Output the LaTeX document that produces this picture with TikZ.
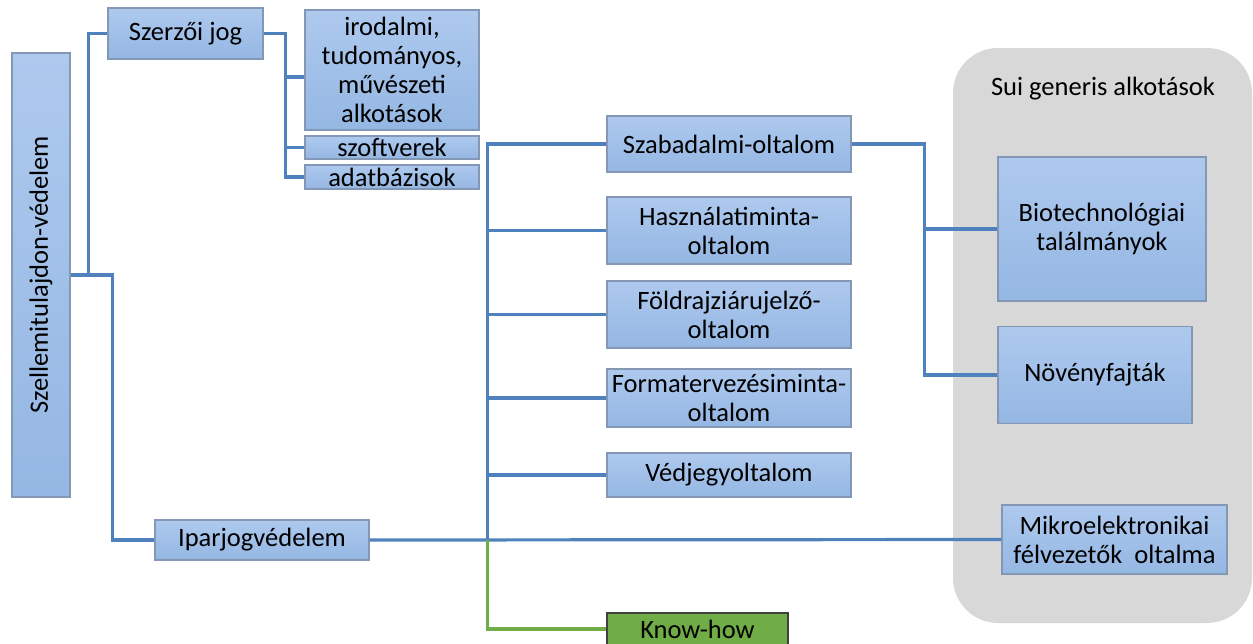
\documentclass[tikz,border=0pt]{standalone}
\usepackage{fontspec}
\setmainfont{Carlito}
\definecolor{linkblue}{RGB}{79,129,189}
\definecolor{linkgreen}{RGB}{112,173,71}
\definecolor{boxtop}{RGB}{174,201,238}
\definecolor{boxbot}{RGB}{148,183,227}
\definecolor{boxedge}{RGB}{132,152,182}
\definecolor{suigray}{RGB}{216,216,216}
\begin{document}
\begin{tikzpicture}[x=1pt,y=-1pt,
                        box/.style={shape=rectangle,draw=boxedge,line width=1.2pt,top color=boxtop,bottom color=boxbot,
                                    inner sep=0pt,align=center,font=\fontsize{26.5}{29}\selectfont},
                        greenbox/.style={shape=rectangle,draw=black!75,line width=1.2pt,fill=linkgreen,
                                    inner sep=0pt,align=center,font=\fontsize{26.5}{29}\selectfont},
                        link/.style={draw=linkblue,line width=3.2pt},
                        greenlink/.style={draw=linkgreen,line width=3.2pt}]
                        \useasboundingbox (0,0) rectangle (1253,643);
                        \clip (0,0) rectangle (1253,643);
                        \fill[suigray,rounded corners=45pt] (953,48) rectangle (1252,623);
                        \node[font=\fontsize{26.5}{29}\selectfont] at (1103,89) (sui) {Sui generis alkotások};
                        \node[box,rotate=90,minimum width=444pt,minimum height=58pt] at (41,275) (szv) {Szellemitulajdon-védelem};
                        \node[box,minimum width=155pt,minimum height=51pt] at (185.5,33.5) (szj) {Szerzői jog};
                        \node[box,minimum width=174pt,minimum height=120pt] at (392,70) (irod) {irodalmi,\\tudományos,\\művészeti\\alkotások};
                        \node[box,minimum width=174pt,minimum height=23pt] at (392,147.5) (szoft) {szoftverek};
                        \node[box,minimum width=174pt,minimum height=24pt] at (392,177) (adat) {adatbázisok};
                        \node[box,minimum width=214pt,minimum height=40pt] at (262,540) (ipar) {Iparjogvédelem};
                        \node[box,minimum width=244pt,minimum height=56pt] at (729,144) (szab) {Szabadalmi-oltalom};
                        \node[box,minimum width=244pt,minimum height=67pt] at (729,230.5) (hasz) {Használatiminta-\\oltalom};
                        \node[box,minimum width=244pt,minimum height=67pt] at (729,314.5) (fold) {Földrajziárujelző-\\oltalom};
                        \node[box,minimum width=244pt,minimum height=58pt] at (729,398) (form) {Formatervezésiminta-\\oltalom};
                        \node[box,minimum width=244pt,minimum height=44pt] at (729,475) (vedj) {Védjegyoltalom};
                        \node[greenbox,minimum width=181pt,minimum height=32pt] at (697.5,629) (know) {Know-how};
                        \node[box,minimum width=208pt,minimum height=144pt] at (1102,229) (bio) {Biotechnológiai\\találmányok};
                        \node[box,minimum width=194pt,minimum height=97pt] at (1095,375) (nov) {Növényfajták};
                        \node[box,minimum width=225pt,minimum height=69pt] at (1114.5,539.5) (mikro) {Mikroelektronikai\\félvezetők\ \ oltalma};
                        \draw[link] (szj.west) -- ++(-19,0) |- (szv.south);
                        \draw[link] (szv.south) -- ++(42,0) |- (ipar.west);
                        \draw[link] (szj.east) -- ++(22,0) |- ([yshift=-7pt]irod.west);
                        \foreach \n in {szoft,adat}
                            \draw[link] (szj.east) ++(22,0) |- (\n.west);
                        \draw[link] (ipar.east) -- (mikro.west);
                        \coordinate (ij) at (487.5,540);
                        \foreach \n in {szab,hasz,fold,form,vedj}
                            \draw[link] (ij) |- (\n.west);
                        \draw[greenlink] (ij) |- (know.west);
                        \foreach \n in {bio,nov}
                            \draw[link] (szab.east) -- ++(73,0) |- (\n.west);
                \end{tikzpicture}
\end{document}
